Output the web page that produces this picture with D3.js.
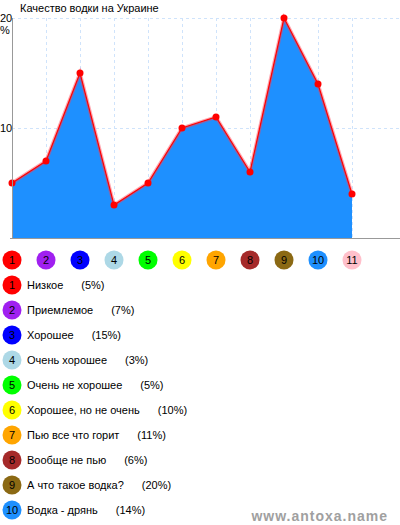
<!DOCTYPE html>
<html>
<head>
<meta charset="utf-8">
<script src="https://cdn.jsdelivr.net/npm/d3@7"></script>
<style>
  body { margin: 0; background: #fff; }
  svg { display: block; font-family: "Liberation Sans", Arial, sans-serif; }
</style>
</head>
<body>
<div id="chart"></div>
<script>
// chart data
var title = "Качество водки на Украине";
var numbers = ["1","2","3","4","5","6","7","8","9","10","11"];
var values = [5, 7, 15, 3, 5, 10, 11, 6, 20, 14, 4];
var colors = ["#ff0000","#a020f0","#0000ff","#add8e6","#00ff00","#ffff00",
              "#ffa500","#a52a2a","#8b6914","#1e90ff","#ffc0cb"];
var labels = ["Низкое","Приемлемое","Хорошее","Очень хорошее","Очень не хорошее",
              "Хорошее, но не очень","Пью все что горит","Вообще не пью",
              "А что такое водка?","Водка - дрянь"];
var yTicks = [10, 20];

var width = 400, height = 525;

var svg = d3.select("#chart").append("svg")
    .attr("width", width)
    .attr("height", height);

var x = d3.scalePoint()
    .domain(numbers)
    .range([12, 352]);

var y = d3.scaleLinear()
    .domain([0, 20])
    .range([238, 18]);

// grid
var grid = svg.append("g").attr("class", "grid");
grid.selectAll("line.v")
    .data(numbers.slice(1))
    .enter().append("line")
    .attr("x1", function(d){ return x(d) + 0.5; })
    .attr("x2", function(d){ return x(d) + 0.5; })
    .attr("y1", y(20))
    .attr("y2", y(0))
    .attr("stroke", "#cfe3fb")
    .attr("stroke-dasharray", "3,3");
grid.selectAll("line.h")
    .data(yTicks)
    .enter().append("line")
    .attr("x1", 12)
    .attr("x2", width)
    .attr("y1", function(d){ return y(d) + 0.5; })
    .attr("y2", function(d){ return y(d) + 0.5; })
    .attr("stroke", "#cfe3fb")
    .attr("stroke-dasharray", "3,3");

// area + line
var area = d3.area()
    .x(function(d,i){ return x(numbers[i]); })
    .y0(y(0))
    .y1(function(d){ return y(d); });
svg.append("path")
    .datum(values)
    .attr("d", area)
    .attr("fill", "#1e90ff");

var line = d3.line()
    .x(function(d,i){ return x(numbers[i]); })
    .y(function(d){ return y(d); });
svg.append("path")
    .datum(values)
    .attr("d", line)
    .attr("fill", "none")
    .attr("stroke", "rgba(255,60,80,0.45)")
    .attr("stroke-width", 3.5);
svg.append("path")
    .datum(values)
    .attr("d", line)
    .attr("fill", "none")
    .attr("stroke", "#ff0000")
    .attr("stroke-width", 1.2);

svg.selectAll("circle.pt")
    .data(values)
    .enter().append("circle")
    .attr("class", "pt")
    .attr("cx", function(d,i){ return x(numbers[i]); })
    .attr("cy", function(d){ return y(d); })
    .attr("r", 3.5)
    .attr("fill", "#ff0000");

// axes
svg.append("line")
    .attr("x1", 12.5).attr("x2", 12.5)
    .attr("y1", y(20)).attr("y2", y(0) + 1)
    .attr("stroke", "#999");
svg.append("line")
    .attr("x1", 10).attr("x2", width)
    .attr("y1", y(0) + 0.5).attr("y2", y(0) + 0.5)
    .attr("stroke", "#999");

svg.selectAll("text.ytick")
    .data(yTicks)
    .enter().append("text")
    .attr("x", 0)
    .attr("y", function(d){ return y(d) + 4; })
    .attr("font-size", 11)
    .attr("fill", "#000")
    .text(function(d){ return d; });
svg.append("text")
    .attr("x", 0)
    .attr("y", y(20) + 16)
    .attr("font-size", 11)
    .text("%");

svg.append("text")
    .attr("x", 20)
    .attr("y", 12)
    .attr("font-size", 11)
    .text(title);

// numbered circles under the chart
var nums = svg.append("g");
nums.selectAll("circle")
    .data(numbers)
    .enter().append("circle")
    .attr("cx", function(d){ return x(d); })
    .attr("cy", 260)
    .attr("r", 9.5)
    .attr("fill", function(d,i){ return colors[i]; });
nums.selectAll("text")
    .data(numbers)
    .enter().append("text")
    .attr("x", function(d){ return x(d); })
    .attr("y", 264)
    .attr("text-anchor", "middle")
    .attr("font-size", 11)
    .text(function(d){ return d; });

// legend
var legend = svg.append("g");
var rows = legend.selectAll("g")
    .data(labels)
    .enter().append("g")
    .attr("transform", function(d,i){ return "translate(12," + (285 + i*25) + ")"; });
rows.append("circle")
    .attr("r", 9.5)
    .attr("fill", function(d,i){ return colors[i]; });
rows.append("text")
    .attr("y", 4)
    .attr("text-anchor", "middle")
    .attr("font-size", 11)
    .text(function(d,i){ return numbers[i]; });
var lt = rows.append("text")
    .attr("x", 15)
    .attr("y", 4)
    .attr("font-size", 11);
lt.append("tspan").text(function(d){ return d; });
lt.append("tspan")
    .attr("dx", 18)
    .text(function(d,i){ return "(" + values[i] + "%)"; });

// watermark
svg.append("text")
    .attr("x", 388)
    .attr("y", 521)
    .attr("text-anchor", "end")
    .attr("font-size", 14)
    .attr("font-weight", "bold")
    .attr("letter-spacing", 1)
    .attr("fill", "#a0a0a0")
    .text("www.antoxa.name");
</script>
</body>
</html>
